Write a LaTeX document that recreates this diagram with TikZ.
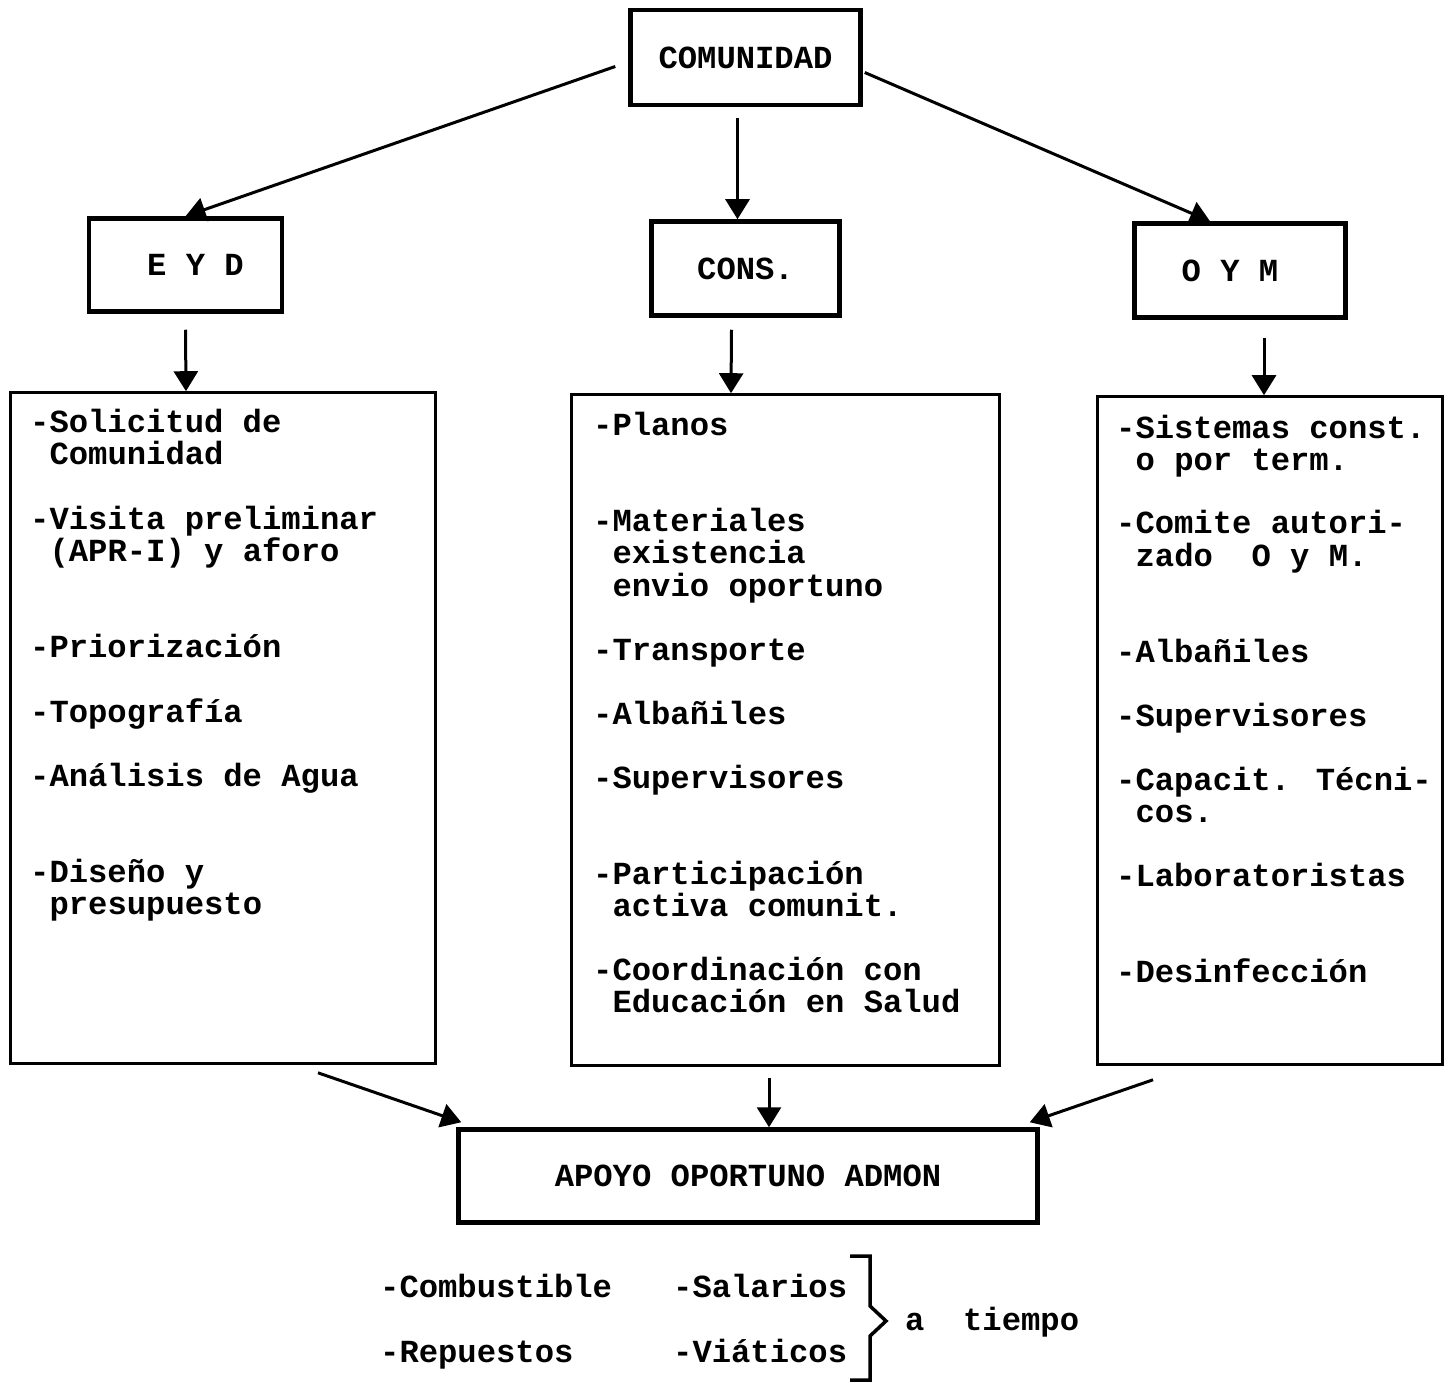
\documentclass[tikz,border=0pt]{standalone}
\usepackage{fontspec}
\setmainfont{Liberation Mono}
\usetikzlibrary{arrows.meta,calc}
\newcommand{\mainfnt}{\bfseries\fontsize{32.2}{32}\selectfont}
\tikzset{
  thickbox/.style={draw, line width=4.5pt, inner sep=0pt, font=\mainfnt},
  listbox/.style={draw, line width=2.6pt, inner sep=0pt},
  txt/.style={anchor=base west, inner sep=0pt, text height=20pt, text depth=6pt, font=\mainfnt},
  arr/.style={line width=3pt, -{Triangle[width=24pt,length=20pt]}},
}
\begin{document}
\begin{tikzpicture}[x=1pt,y=-1pt]
\useasboundingbox (0,0) rectangle (1451,1383);
% header boxes
\node[thickbox, minimum width=230, minimum height=95] (com) at (745.5,57.5) {COMUNIDAD};
\node[thickbox, minimum width=193, minimum height=93] (eyd) at (185.5,265) {\hspace*{20pt}E Y D};
\node[thickbox, minimum width=188, minimum height=94] (cons) at (745.5,268.5) {CONS.};
\node[thickbox, minimum width=211, minimum height=94] (oym) at (1240,270.5) {\hspace*{-20pt}O Y M};
\node[thickbox, minimum width=579, minimum height=93] (apoyo) at (748,1176) {APOYO OPORTUNO ADMON};
% list boxes
\node[listbox, minimum width=425, minimum height=671] (lbox) at (223,728) {};
\node[listbox, minimum width=428, minimum height=671] (mbox) at (785.5,730) {};
\node[listbox, minimum width=345, minimum height=668] (rbox) at (1270,730.5) {};
% arrows
\draw[arr] ([shift={(-13,9)}]com.west) -- (eyd.north);
\draw[arr] ([shift={(-8,11)}]com.south) -- ([shift={(-8,0)}]cons.north);
\draw[arr] ([shift={(2,15)}]com.east) -- ([shift={(-30,0)}]oym.north);
\draw[arr] ([shift={(0,16)}]eyd.south) -- ([shift={(-37,0)}]lbox.north);
\draw[arr] ([shift={(-14,12)}]cons.south) -- ([shift={(-54.5,0)}]mbox.north);
\draw[arr] ([shift={(24,18)}]oym.south) -- ([shift={(-6,0)}]rbox.north);
\draw[arr] ([shift={(95,8)}]lbox.south) -- ([shift={(5,-5)}]apoyo.north west);
\draw[arr] ([shift={(-16.5,11)}]mbox.south) -- ([shift={(21,0)}]apoyo.north);
\draw[arr] ([shift={(-117,14)}]rbox.south) -- ([shift={(-10,-5)}]apoyo.north east);
% left list
\foreach \xx/\yy/\tt [count=\i] in {
  30/432/{-Solicitud de}, 49.4/464/{Comunidad},
  30/529/{-Visita preliminar}, 49.4/561/{(APR-I) y aforo},
  30/657/{-Priorización}, 30/722/{-Topografía}, 30/786/{-Análisis de Agua},
  30/882/{-Diseño y}, 49.4/914/{presupuesto}}
  \node[txt] (l\i) at (\xx,\yy) {\tt};
% middle list
\foreach \xx/\yy/\tt [count=\i] in {
  593/435/{-Planos},
  593/531/{-Materiales}, 612.4/563/{existencia}, 612.4/596/{envio oportuno},
  593/660/{-Transporte}, 593/724/{-Albañiles}, 593/788/{-Supervisores},
  593/884/{-Participación}, 612.4/916/{activa comunit.},
  593/980/{-Coordinación con}, 612.4/1012/{Educación en Salud}}
  \node[txt] (m\i) at (\xx,\yy) {\tt};
% right list
\foreach \xx/\yy/\tt [count=\i] in {
  1116/438/{-Sistemas const.}, 1135.4/470/{o por term.},
  1116/533/{-Comite autori-}, 1135.4/566/{zado~~O y M.},
  1116/662/{-Albañiles}, 1116/726/{-Supervisores},
  1116/790/{-Capacit. Técni-}, 1135.4/822/{cos.},
  1116/886/{-Laboratoristas}, 1116/982/{-Desinfección}}
  \node[txt] (r\i) at (\xx,\yy) {\tt};
% bottom items
\node[txt] (b1) at (380,1297) {-Combustible};
\node[txt] (b2) at (673,1297) {-Salarios};
\node[txt] (b3) at (380,1362) {-Repuestos};
\node[txt] (b4) at (673,1362) {-Viáticos};
\node[txt] (b5) at (905,1330) {a~~tiempo};
\draw[line width=3.5pt, line join=miter] (850,1256) -- (870,1256) -- (870,1306) -- (886,1321) -- (870,1336) -- (870,1380) -- (850,1380);
\end{tikzpicture}
\end{document}
